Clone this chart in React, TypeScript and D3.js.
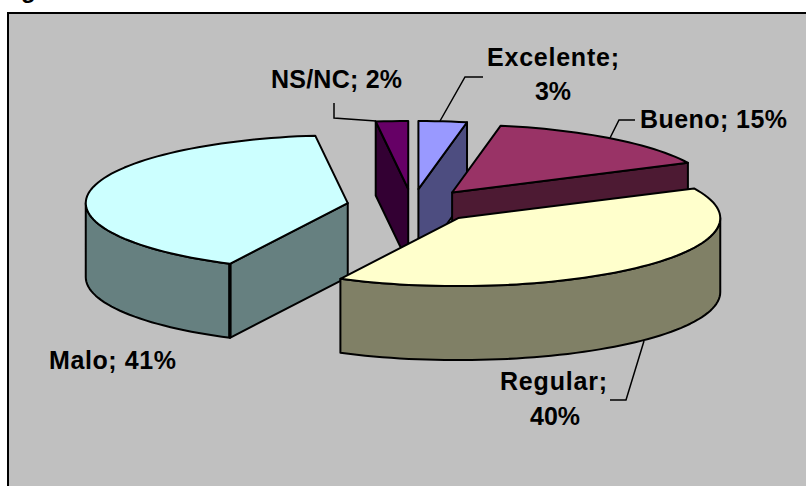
import React from "react";
import * as d3 from "d3";

const categories = ["Excelente", "Bueno", "Regular", "Malo", "NS/NC"];
const shares = [3, 15, 40, 41, 2];
const topColors = ["#9999FF", "#993366", "#FFFFCC", "#CCFFFF", "#660066"];
const sideColors = ["#4D4D80", "#4D1A33", "#808066", "#668080", "#330033"];
const paintOrder = [0, 4, 1, 3, 2];

const W = 806;
const H = 486;
const CX = 412.3;
const CY = 206;
const RX = 262;
const RY = 68;
const DEPTH = 74;
const EXPLODE = 0.25;

// label text lines, then where each one is set: [left, baseline, width]
const labelLines = [
  { text: "Excelente;", x: 487, y: 66, w: 132 },
  { text: "3%", x: 535, y: 100, w: 36 },
  { text: "Bueno; 15%", x: 640, y: 128, w: 147 },
  { text: "Regular;", x: 500, y: 390, w: 107 },
  { text: "40%", x: 530, y: 425, w: 50 },
  { text: "Malo; 41%", x: 49, y: 369, w: 127 },
  { text: "NS/NC; 2%", x: 271, y: 88, w: 131 },
];
const leaders: [number, number][][] = [
  [[483, 77], [465, 77], [440, 121]],
  [[635, 120], [619, 120], [610, 138]],
  [[644, 341], [626, 400], [610, 400]],
  [[334, 103], [334, 118], [376, 121]],
];

const xs = d3.scaleLinear().domain([-1, 1]).range([CX - RX, CX + RX]);
const ys = d3.scaleLinear().domain([-1, 1]).range([CY - RY, CY + RY]);
const ring = d3.line<[number, number]>().x((d) => d[0]).y((d) => d[1]);

const pieGen = d3.pie<number>().sort(null).startAngle(0).endAngle(2 * Math.PI);
const arcs = pieGen(shares);

const arcPoints = (ax: number, ay: number, t0: number, t1: number): [number, number][] => {
  const n = Math.max(2, Math.ceil(((t1 - t0) * 180) / Math.PI / 2));
  return d3.range(n + 1).map((i) => {
    const t = t0 + ((t1 - t0) * i) / n;
    return [ax + RX * Math.sin(t), ay - RY * Math.cos(t)] as [number, number];
  });
};

function Slice({ index }: { index: number }) {
  const { startAngle: t0, endAngle: t1 } = arcs[index];
  const mid = (t0 + t1) / 2;
  const ax = xs(EXPLODE * Math.sin(mid));
  const ay = ys(-EXPLODE * Math.cos(mid));
  const top = arcPoints(ax, ay, t0, t1);
  const drop = (p: [number, number]): [number, number] => [p[0], p[1] + DEPTH];
  const stroke = { stroke: "#000", strokeWidth: 2, strokeLinejoin: "round" as const };

  const face = (p: [number, number]) =>
    ring([[ax, ay], p, drop(p), drop([ax, ay])])! + "Z";
  const first = top[0];
  const last = top[top.length - 1];
  // a cut face shows only when its outward normal has a component towards the viewer
  const startShows = Math.sin(t0) < -1e-6;
  const endShows = Math.sin(t1) > 1e-6;

  const w0 = Math.max(t0, Math.PI / 2);
  const w1 = Math.min(t1, (3 * Math.PI) / 2);
  const hasWall = w1 > w0;
  const wallTop = hasWall ? arcPoints(ax, ay, w0, w1) : [];
  const wall = hasWall
    ? ring([...wallTop, ...wallTop.map(drop).reverse()])! + "Z"
    : "";
  const cornerThick = hasWall && startShows && w0 === t0;

  return (
    <g>
      {endShows && <path d={face(last)} fill={sideColors[index]} {...stroke} />}
      {hasWall && <path d={wall} fill={sideColors[index]} {...stroke} />}
      {startShows && <path d={face(first)} fill={sideColors[index]} {...stroke} />}
      {cornerThick && (
        <line x1={first[0]} y1={first[1]} x2={first[0]} y2={first[1] + DEPTH} stroke="#000" strokeWidth={3.4} />
      )}
      <path d={ring([[ax, ay], ...top])! + "Z"} fill={topColors[index]} {...stroke} />
    </g>
  );
}

export default function App() {
  return (
    <svg
      width={W}
      height={H}
      viewBox={`0 0 ${W} ${H}`}
      style={{ position: "fixed", left: 0, top: 0, background: "#fff", display: "block" }}
      fontFamily="'Liberation Sans', Arial, sans-serif"
      fontWeight="bold"
      role="img"
      aria-label={categories.join(", ")}
    >
      <rect x={8} y={13} width={W} height={H} fill="#C0C0C0" stroke="#000" strokeWidth={2} />
      <text x={21} y={-2} fontSize={24} fill="#000">g</text>
      {paintOrder.map((i) => (
        <Slice key={categories[i]} index={i} />
      ))}
      {leaders.map((l, i) => (
        <path key={i} d={ring(l)!} fill="none" stroke="#000" strokeWidth={1.5} />
      ))}
      {labelLines.map((l) => (
        <text key={l.text} x={l.x} y={l.y} fontSize={25} fill="#000" textLength={l.w} lengthAdjust="spacing">
          {l.text}
        </text>
      ))}
    </svg>
  );
}
